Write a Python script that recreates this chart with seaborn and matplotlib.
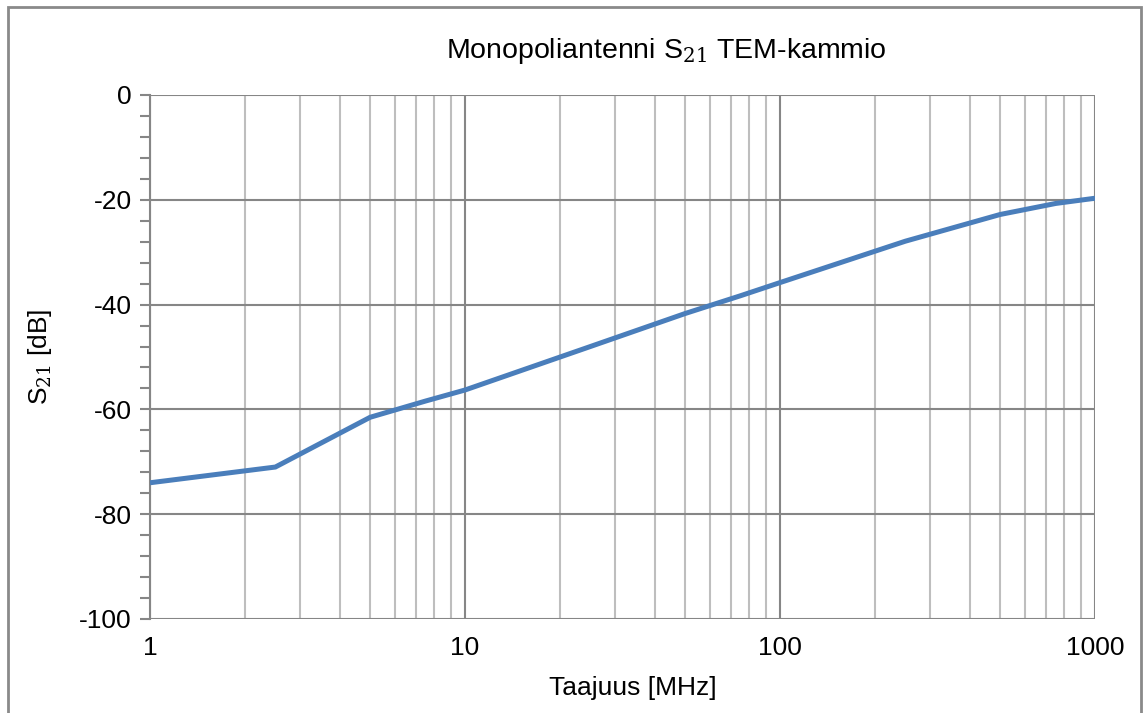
import matplotlib
matplotlib.use("Agg")
import matplotlib.pyplot as plt
import matplotlib.patches as mpatches
from matplotlib.ticker import LogLocator, MultipleLocator, FixedLocator, FixedFormatter, NullFormatter
import seaborn as sns
import pandas as pd

# Measured S21 of the monopole antenna in the TEM cell
freq_mhz = [1, 2.5, 5, 7.5, 10, 25, 50, 75, 100, 250, 500, 750, 1000]
s21_db = [-74.0, -71.0, -61.5, -58.4, -56.3, -48.0, -41.7, -38.3, -35.8, -27.9, -22.8, -20.7, -19.7]

x_ticks = [1, 10, 100, 1000]
x_tick_labels = ["1", "10", "100", "1000"]
y_ticks = [0, -20, -40, -60, -80, -100]
y_tick_labels = ["0", "-20", "-40", "-60", "-80", "-100"]

df = pd.DataFrame({"Taajuus": freq_mhz, "S21": s21_db})

sns.set_theme(style="white")
plt.rcParams["font.family"] = ["Liberation Sans", "DejaVu Sans"]
plt.rcParams["text.color"] = "black"
plt.rcParams["mathtext.fontset"] = "custom"
plt.rcParams["mathtext.rm"] = "DejaVu Serif"
plt.rcParams["mathtext.it"] = "DejaVu Serif"

W, H = 1145, 713
fig = plt.figure(figsize=(W / 100, H / 100), dpi=100)
ax = fig.add_axes([150 / W, 1 - 619 / H, (1095 - 150) / W, (619 - 95) / H])

major_grid = "#868686"
minor_grid = "#bebebe"
fs = 19

ax.set_xscale("log")
ax.set_xlim(1, 1000)
ax.set_ylim(-100, 0)

ax.xaxis.set_minor_locator(LogLocator(base=10, subs=range(2, 10)))
ax.xaxis.set_minor_formatter(NullFormatter())
ax.xaxis.set_major_locator(FixedLocator(x_ticks))
ax.xaxis.set_major_formatter(FixedFormatter(x_tick_labels))
ax.yaxis.set_major_locator(FixedLocator(y_ticks))
ax.yaxis.set_major_formatter(FixedFormatter(y_tick_labels))
ax.yaxis.set_minor_locator(MultipleLocator(4))

ax.grid(which="minor", axis="x", color=minor_grid, linewidth=1.5)
ax.grid(which="major", axis="x", color=major_grid, linewidth=1.5)
ax.grid(which="major", axis="y", color=major_grid, linewidth=1.5)
ax.set_axisbelow(True)

sns.lineplot(data=df, x="Taajuus", y="S21", ax=ax, color="#4a7ebb",
             linewidth=3.6, solid_joinstyle="miter", solid_capstyle="butt", zorder=3)

for side in ["top", "right", "bottom"]:
    ax.spines[side].set_visible(False)
ax.spines["left"].set_color(major_grid)
ax.spines["left"].set_linewidth(1.5)

ax.tick_params(axis="x", which="both", length=0, pad=12, labelsize=fs, colors="black")
ax.tick_params(axis="y", which="major", length=7, width=1.5, color=major_grid,
               pad=6, labelsize=fs, labelcolor="black", left=True)
ax.tick_params(axis="y", which="minor", length=7, width=1.5, color=major_grid, left=True)

ax.set_xlabel("")
ax.set_ylabel("")
fig.text(633 / W, 1 - 688 / H, "Taajuus [MHz]", ha="center", va="center",
         fontsize=fs, color="black")
fig.text(40 / W, 1 - 357 / H, r"S$_{21}$ [dB]", ha="center", va="center",
         rotation=90, fontsize=fs, color="black")
fig.text(666 / W, 1 - 51 / H, r"Monopoliantenni S$_{21}$ TEM-kammio",
         ha="center", va="center", fontsize=20.5, color="black")

# chart-area border
border = mpatches.Rectangle((8 / W, -0.05), (1141 - 8) / W, 1 - 7 / H + 0.05,
                            transform=fig.transFigure, fill=False,
                            edgecolor="#8a8a8a", linewidth=2.0)
fig.patches.append(border)

fig.savefig("out.png", dpi=100)
